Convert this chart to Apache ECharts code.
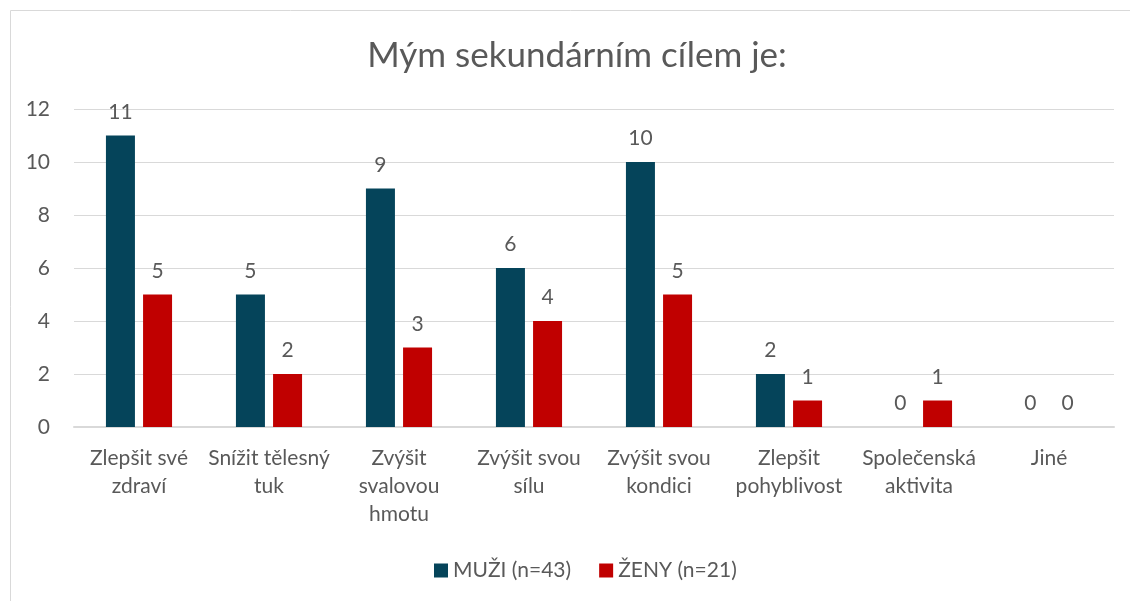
<!DOCTYPE html>
<html>
<head>
<meta charset="utf-8">
<script src="https://cdn.jsdelivr.net/npm/echarts@6/dist/echarts.min.js"></script>
<style>
    html, body { margin: 0; padding: 0; background: #fff; }
    #chart { width: 1130px; height: 601px; }
</style>
</head>
<body>
<div id="chart"></div>
<script>
    // kategorie a hodnoty
    var categories = [
        'Zlepšit své\nzdraví',
        'Snížit tělesný\ntuk',
        'Zvýšit\nsvalovou\nhmotu',
        'Zvýšit svou\nsílu',
        'Zvýšit svou\nkondici',
        'Zlepšit\npohyblivost',
        'Společenská\naktivita',
        'Jiné'
    ];
    var muzi = [11, 5, 9, 6, 10, 2, 0, 0];
    var zeny = [5, 2, 3, 4, 5, 1, 1, 0];
    var seriesNames = ['MUŽI (n=43)', 'ŽENY (n=21)'];

    var font = 'Lato, "Open Sans", sans-serif';
    var textColor = '#595959';

    var myChart = echarts.init(document.getElementById('chart'));
    myChart.setOption({
        animation: false,
        graphic: [{
            type: 'rect',
            shape: { x: 10.5, y: 10.5, width: 1140, height: 620 },
            style: { fill: 'none', stroke: '#d9d9d9', lineWidth: 1 },
            silent: true
        }],
        title: {
            text: 'Mým sekundárním cílem je:',
            left: 572,
            textAlign: 'center',
            top: 33,
            textStyle: {
                color: textColor,
                fontFamily: font,
                fontSize: 35,
                fontWeight: 'normal'
            }
        },
        legend: {
            data: seriesNames,
            bottom: 15,
            left: 429,
            itemWidth: 14,
            itemHeight: 14,
            itemGap: 28,
            icon: 'rect',
            textStyle: { color: textColor, fontFamily: font, fontSize: 21 }
        },
        grid: {
            left: 74,
            right: 16,
            top: 109,
            bottom: 174,
            containLabel: false
        },
        xAxis: {
            type: 'category',
            data: categories,
            axisTick: { show: false },
            axisLine: { show: true, lineStyle: { color: '#d9d9d9', width: 2 } },
            axisLabel: {
                interval: 0,
                color: textColor,
                fontFamily: font,
                fontSize: 21,
                lineHeight: 28,
                margin: 17
            }
        },
        yAxis: {
            type: 'value',
            min: 0,
            max: 12,
            interval: 2,
            axisLine: { show: false },
            axisTick: { show: false },
            axisLabel: {
                color: textColor,
                fontFamily: font,
                fontSize: 21,
                margin: 24
            },
            splitLine: { lineStyle: { color: '#d9d9d9', width: 1 } }
        },
        series: [
            {
                name: seriesNames[0],
                type: 'bar',
                data: muzi,
                barWidth: 29,
                barGap: '28%',
                itemStyle: { color: '#05445A' },
                label: {
                    show: true,
                    position: 'top',
                    distance: 13,
                    color: textColor,
                    fontFamily: font,
                    fontSize: 21
                }
            },
            {
                name: seriesNames[1],
                type: 'bar',
                data: zeny,
                barWidth: 29,
                barGap: '28%',
                itemStyle: { color: '#C00000' },
                label: {
                    show: true,
                    position: 'top',
                    distance: 13,
                    color: textColor,
                    fontFamily: font,
                    fontSize: 21
                }
            }
        ]
    });
</script>
</body>
</html>
